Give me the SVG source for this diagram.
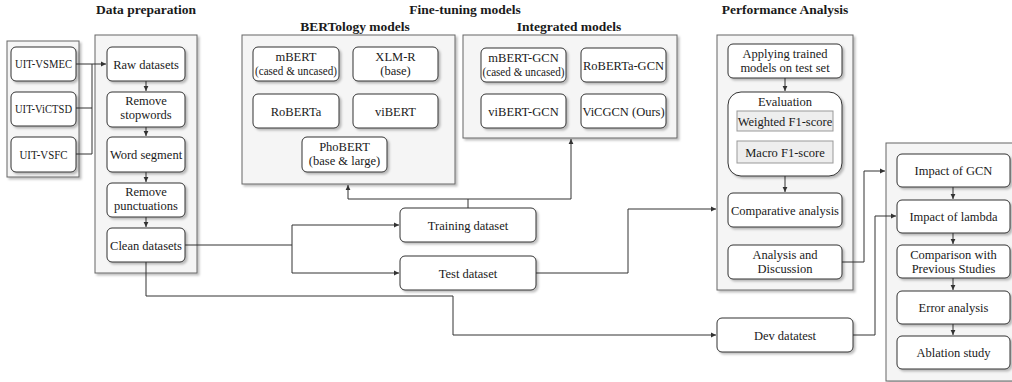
<svg xmlns="http://www.w3.org/2000/svg" width="1012" height="382" viewBox="0 0 1012 382">
<defs>
<filter id="sh" x="-10%" y="-10%" width="130%" height="130%">
<feDropShadow dx="2" dy="2" stdDeviation="1.2" flood-color="#000" flood-opacity="0.25"/>
</filter>
<marker id="ar" markerWidth="6" markerHeight="6" refX="5" refY="3" orient="auto" markerUnits="userSpaceOnUse">
<path d="M0,0.6 L5,3 L0,5.4 Z" fill="#333"/>
</marker>
<style>
.ct{fill:#f5f5f5;stroke:#666;stroke-width:1;filter:url(#sh)}
.bx{fill:#fff;stroke:#333;stroke-width:1;filter:url(#sh)}
.gb{fill:#eeeeee;stroke:#999;stroke-width:1}
.t{font-family:"Liberation Serif","Times New Roman",serif;font-size:12.5px;fill:#1a1a1a;text-anchor:middle}
.t.s{font-size:12px}
.h{font-family:"Liberation Serif","Times New Roman",serif;font-size:13.5px;font-weight:bold;fill:#1a1a1a;text-anchor:middle}
.ln{fill:none;stroke:#333;stroke-width:1}
.ln.a{marker-end:url(#ar)}
</style>
</defs>
<rect width="1012" height="382" fill="#fff"/>

<!-- Titles -->
<g id="titles">
<text class="h" x="146" y="13.5">Data preparation</text>
<text class="h" x="465" y="13.5">Fine-tuning models</text>
<text class="h" x="785" y="13.5">Performance Analysis</text>
<text class="h" x="355" y="31">BERTology models</text>
<text class="h" x="569" y="31">Integrated models</text>
</g>

<!-- Containers -->
<g id="containers">
<rect id="c-datasets" class="ct" x="7" y="41" width="72" height="136"/>
<rect id="c-dataprep" class="ct" x="95" y="35" width="102" height="238"/>
<rect id="c-bertology" class="ct" x="242" y="35" width="213" height="149"/>
<rect id="c-integrated" class="ct" x="463" y="35" width="214" height="103"/>
<rect id="c-perf" class="ct" x="717" y="35" width="136" height="255"/>
<rect id="c-ablation" class="ct" x="886" y="143" width="130" height="238"/>
</g>

<!-- Connectors -->
<g id="connectors">
<path class="ln a" d="M76,64 H106"/>
<path class="ln" d="M76,108 H92 V64"/>
<path class="ln" d="M76,154 H92 V108"/>
<path class="ln a" d="M146,81 V91"/>
<path class="ln a" d="M146,127 V136"/>
<path class="ln a" d="M146,172 V182"/>
<path class="ln a" d="M146,217 V227"/>
<path class="ln" d="M185,245 H292"/>
<path class="ln a" d="M292,245 V225 H399"/>
<path class="ln a" d="M292,245 V273 H399"/>
<path class="ln" d="M468,208 V199"/>
<path class="ln a" d="M468,199 H348 V185"/>
<path class="ln a" d="M468,199 H571 V139"/>
<path class="ln a" d="M536,273 H628 V209 H716"/>
<path class="ln a" d="M146,262 V296 H453 V335 H716"/>
<path class="ln a" d="M785,78 V91"/>
<path class="ln a" d="M785,176 V192"/>
<path class="ln a" d="M842,262 H864 V171 H885"/>
<path class="ln a" d="M853,335 H875 V216 H896"/>
<path class="ln a" d="M953,187 V199"/>
<path class="ln a" d="M953,233 V244"/>
<path class="ln a" d="M953,278 V290"/>
<path class="ln a" d="M953,324 V335"/>
</g>

<!-- Dataset nodes -->
<g id="n-vsmec"><rect class="bx" x="11" y="47" width="65" height="34" rx="5"/><text class="t s" x="43.5" y="68" textLength="57" lengthAdjust="spacingAndGlyphs">UIT-VSMEC</text></g>
<g id="n-victsd"><rect class="bx" x="11" y="92" width="65" height="34" rx="5"/><text class="t s" x="43.5" y="113" textLength="57" lengthAdjust="spacingAndGlyphs">UIT-ViCTSD</text></g>
<g id="n-vsfc"><rect class="bx" x="11" y="137" width="65" height="35" rx="5"/><text class="t s" x="43.5" y="158.5" textLength="48" lengthAdjust="spacingAndGlyphs">UIT-VSFC</text></g>

<!-- Data preparation nodes -->
<g id="n-raw"><rect class="bx" x="107" y="47" width="78" height="34" rx="5"/><text class="t" x="146" y="68.5">Raw datasets</text></g>
<g id="n-stop"><rect class="bx" x="107" y="92" width="78" height="35" rx="5"/><text class="t" x="146" y="105">Remove</text><text class="t" x="146" y="119">stopwords</text></g>
<g id="n-seg"><rect class="bx" x="107" y="137" width="78" height="35" rx="5"/><text class="t" x="146" y="159">Word segment</text></g>
<g id="n-punc"><rect class="bx" x="107" y="183" width="78" height="34" rx="5"/><text class="t" x="146" y="196">Remove</text><text class="t" x="146" y="210">punctuations</text></g>
<g id="n-clean"><rect class="bx" x="107" y="228" width="78" height="34" rx="5"/><text class="t" x="146" y="249.5">Clean datasets</text></g>

<!-- BERTology nodes -->
<g id="n-mbert"><rect class="bx" x="253" y="47" width="86" height="34" rx="5"/><text class="t" x="296" y="61">mBERT</text><text class="t s" x="296" y="75" textLength="82" lengthAdjust="spacingAndGlyphs">(cased &amp; uncased)</text></g>
<g id="n-xlmr"><rect class="bx" x="353" y="47" width="85" height="34" rx="5"/><text class="t" x="395.5" y="61">XLM-R</text><text class="t" x="395.5" y="75">(base)</text></g>
<g id="n-roberta"><rect class="bx" x="253" y="94" width="86" height="34" rx="5"/><text class="t" x="296" y="115.5">RoBERTa</text></g>
<g id="n-vibert"><rect class="bx" x="353" y="94" width="85" height="34" rx="5"/><text class="t" x="395.5" y="115.5">viBERT</text></g>
<g id="n-phobert"><rect class="bx" x="302" y="137" width="85" height="35" rx="5"/><text class="t" x="344.5" y="151">PhoBERT</text><text class="t" x="344.5" y="165">(base &amp; large)</text></g>

<!-- Integrated nodes -->
<g id="n-mbertgcn"><rect class="bx" x="481" y="48" width="85" height="34" rx="5"/><text class="t" x="523.5" y="62">mBERT-GCN</text><text class="t s" x="523.5" y="76" textLength="82" lengthAdjust="spacingAndGlyphs">(cased &amp; uncased)</text></g>
<g id="n-robertagcn"><rect class="bx" x="581" y="48" width="85" height="34" rx="5"/><text class="t" x="623.5" y="69.5">RoBERTa-GCN</text></g>
<g id="n-vibertgcn"><rect class="bx" x="481" y="94" width="85" height="34" rx="5"/><text class="t" x="523.5" y="115.5">viBERT-GCN</text></g>
<g id="n-vicgcn"><rect class="bx" x="581" y="94" width="85" height="34" rx="5"/><text class="t" x="623.5" y="115.5">ViCGCN (Ours)</text></g>

<!-- Dataset splits -->
<g id="n-train"><rect class="bx" x="400" y="208" width="136" height="34" rx="5"/><text class="t" x="468" y="229.5">Training dataset</text></g>
<g id="n-test"><rect class="bx" x="400" y="256" width="136" height="34" rx="5"/><text class="t" x="468" y="277.5">Test dataset</text></g>
<g id="n-dev"><rect class="bx" x="717" y="318" width="136" height="34" rx="5"/><text class="t" x="785" y="339.5">Dev datatest</text></g>

<!-- Performance analysis nodes -->
<g id="n-apply"><rect class="bx" x="728" y="44" width="114" height="34" rx="5"/><text class="t" x="785" y="58">Applying trained</text><text class="t" x="785" y="72">models on test set</text></g>
<g id="n-eval"><rect class="bx" x="728" y="92" width="114" height="84" rx="13"/><text class="t" x="785" y="106">Evaluation</text>
<rect class="gb" x="737" y="111" width="96" height="20"/><text class="t" x="785" y="125.5">Weighted F1-score</text>
<rect class="gb" x="737" y="141" width="96" height="22"/><text class="t" x="785" y="156.5">Macro F1-score</text></g>
<g id="n-comp"><rect class="bx" x="728" y="193" width="114" height="34" rx="5"/><text class="t" x="785" y="214.5">Comparative analysis</text></g>
<g id="n-disc"><rect class="bx" x="728" y="245" width="114" height="34" rx="5"/><text class="t" x="785" y="259">Analysis and</text><text class="t" x="785" y="273">Discussion</text></g>

<!-- Ablation nodes -->
<g id="n-gcn"><rect class="bx" x="897" y="154" width="113" height="33" rx="5"/><text class="t" x="953.5" y="175">Impact of GCN</text></g>
<g id="n-lambda"><rect class="bx" x="897" y="200" width="113" height="33" rx="5"/><text class="t" x="953.5" y="221">Impact of lambda</text></g>
<g id="n-prev"><rect class="bx" x="897" y="245" width="113" height="33" rx="5"/><text class="t" x="953.5" y="258.5">Comparison with</text><text class="t" x="953.5" y="272.5">Previous Studies</text></g>
<g id="n-error"><rect class="bx" x="897" y="291" width="113" height="33" rx="5"/><text class="t" x="953.5" y="312">Error analysis</text></g>
<g id="n-abl"><rect class="bx" x="897" y="336" width="113" height="33" rx="5"/><text class="t" x="953.5" y="357">Ablation study</text></g>
</svg>
